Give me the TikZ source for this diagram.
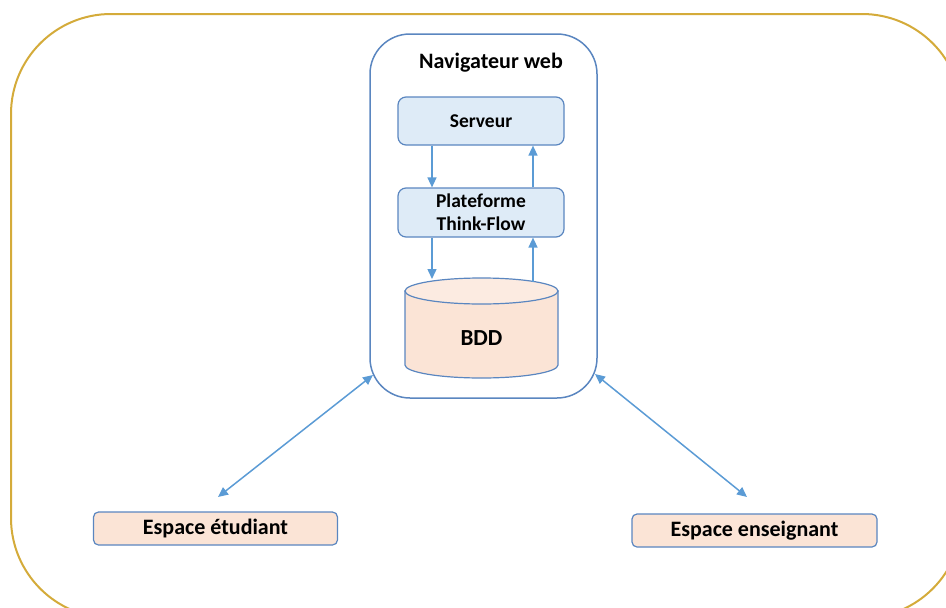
\documentclass[tikz,border=0pt]{standalone}
\usepackage{fontspec}
\setmainfont{Carlito}
\usetikzlibrary{arrows.meta}
\definecolor{gold}{HTML}{D4AB3A}
\definecolor{bord}{HTML}{5A86C0}
\definecolor{arr}{HTML}{5B9BD5}
\definecolor{lblue}{HTML}{DEEBF7}
\definecolor{peach}{HTML}{FBE4D6}
\definecolor{peachtop}{HTML}{FCEBE1}
\tikzset{
  boxb/.style={draw=bord, line width=1.2pt, fill=lblue, rounded corners=8pt, font=\bfseries\fontsize{19.5}{23}\selectfont, align=center, inner sep=0pt},
  boxp/.style={draw=bord, line width=1.2pt, fill=peach, rounded corners=5pt, font=\bfseries\fontsize{22}{24}\selectfont, inner sep=0pt},
  conn/.style={draw=arr, line width=1.5pt, -{Triangle[length=10pt,width=9pt]}},
  dconn/.style={draw=arr, line width=1.5pt, {Triangle[length=10pt,width=9pt]}-{Triangle[length=10pt,width=9pt]}}
}
\begin{document}
\begin{tikzpicture}[x=1pt,y=-1pt]
\useasboundingbox (0,0) rectangle (946,608);
\begin{scope}
\clip (0,0) rectangle (946,608);
\draw[gold, line width=2pt, rounded corners=100pt] (11,14) rectangle (962,618);
\end{scope}
% navigator
\node[draw=bord, line width=1.5pt, rounded corners=40pt, minimum width=227pt, minimum height=364pt, inner sep=0pt] (nav) at (483.5,216) {};
\node[font=\bfseries\fontsize{22}{24}\selectfont] (navt) at (491,63) {Navigateur web};
\node[boxb, minimum width=166pt, minimum height=48pt] (srv) at (481,121) {Serveur};
\node[boxb, minimum width=166pt, minimum height=49pt] (plat) at (481,212.5) {Plateforme\\Think-Flow};
% cylinder
\draw[bord, line width=1.2pt, fill=peach] (405,291) -- (405,365) arc[start angle=180, end angle=360, x radius=76.5pt, y radius=13pt] -- (558,291) -- cycle;
\draw[bord, line width=1.2pt, fill=peachtop] (481.5,291) ellipse [x radius=76.5pt, y radius=13pt];
\node[minimum width=153pt, minimum height=100pt, inner sep=0pt, font=\bfseries\fontsize{23}{25}\selectfont] (bdd) at (481.5,338) {BDD};
\coordinate (bddtopL) at (432,279);
\coordinate (bddtopR) at (533,282);
% internal arrows
\draw[conn] (srv.south -| 432,0) -- (plat.north -| 432,0);
\draw[conn] (plat.north -| 533,0) -- (srv.south -| 533,0);
\draw[conn] (plat.south -| 432,0) -- (bddtopL);
\draw[conn] (bddtopR) -- (plat.south -| 533,0);
% bottom boxes
\node[boxp, minimum width=244pt, minimum height=33pt] (etu) at (215.5,528.5) {Espace étudiant};
\node[boxp, minimum width=245pt, minimum height=33pt] (ens) at (754.5,530.5) {Espace enseignant};
\coordinate (navL) at (373,375);
\coordinate (navR) at (595,374);
\coordinate (etuT) at (218,497);
\coordinate (ensT) at (747,497);
\draw[dconn] (etuT) -- (navL);
\draw[dconn] (navR) -- (ensT);
\end{tikzpicture}
\end{document}
